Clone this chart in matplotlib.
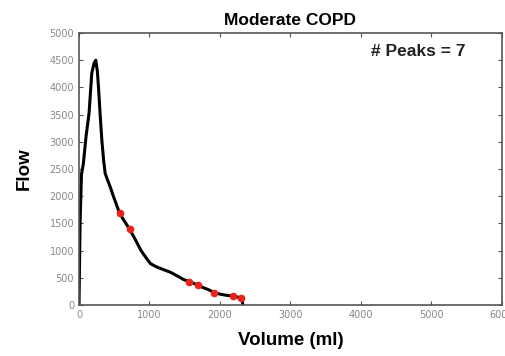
import matplotlib.pyplot as plt

# flow-volume curve
volume = [0, 15, 35, 62, 100, 143, 181, 215, 238, 260, 276, 300, 324, 350,
          371, 410, 443, 490, 530, 576, 640, 719, 800, 880, 950, 1014,
          1100, 1200, 1300, 1400, 1480, 1562, 1620, 1690, 1760, 1840, 1919,
          2000, 2080, 2181, 2240, 2300, 2318, 2324]
flow = [0, 1500, 2400, 2600, 3100, 3530, 4260, 4450, 4500, 4300, 4010, 3500,
        3030, 2650, 2420, 2280, 2170, 1990, 1850, 1685, 1550, 1390, 1200,
        1000, 870, 760, 700, 650, 600, 530, 470, 430, 400, 368, 320, 280,
        227, 200, 180, 165, 150, 123, 60, 0]

peak_vol = [576, 719, 1562, 1690, 1919, 2181, 2300]
peak_flow = [1685, 1390, 430, 368, 227, 165, 123]

fig = plt.figure(figsize=(5.06, 3.56), dpi=100)
ax = fig.add_axes([79 / 506, 1 - 305 / 356, 423 / 506, 272 / 356])

ax.plot(volume, flow, color="black", linewidth=2.2)
ax.plot(peak_vol, peak_flow, "o", color="#e8231c", markersize=5.5,
        markeredgewidth=0)

ax.set_xlim(0, 6000)
ax.set_ylim(0, 5000)
ax.set_xticks(range(0, 6001, 1000))
ax.set_yticks(range(0, 5001, 500))
ax.tick_params(direction="in", length=3, width=0.8, labelsize=7,
               labelcolor="#888888", color="#555555", top=True, right=True)
for s in ax.spines.values():
    s.set_color("#555555")
    s.set_linewidth(1.2)

bold = dict(family="Liberation Sans", fontweight="bold")
ax.set_title("Moderate COPD", fontsize=12.5, pad=6, **bold)
ax.set_xlabel("Volume (ml)", fontsize=13.5, labelpad=9, **bold)
ax.set_ylabel("Flow", fontsize=13.5, labelpad=12, **bold)
ax.text(0.69, 0.915, "# Peaks = 7", transform=ax.transAxes, fontsize=12.5,
        color="#222222", **bold)

fig.savefig("out.png", dpi=100)
